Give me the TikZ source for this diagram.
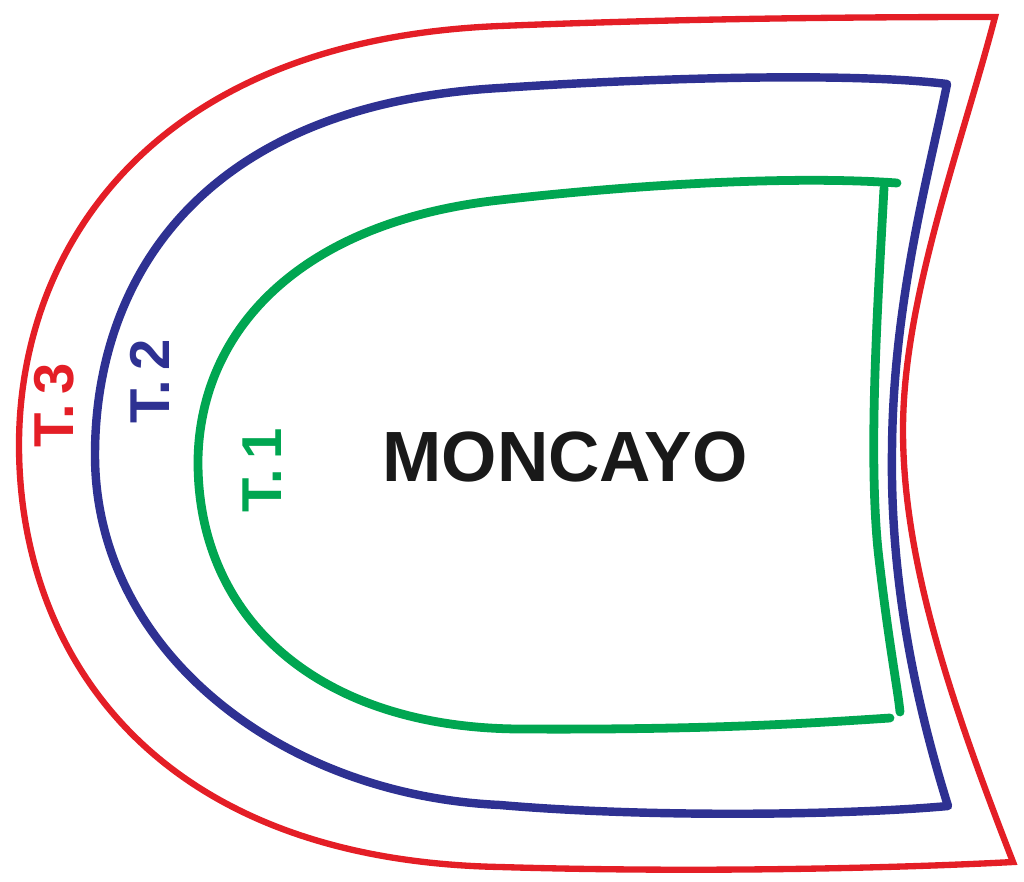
\documentclass[tikz,border=0pt]{standalone}
\usepackage{fontspec}
\setmainfont{Liberation Sans}
\usepackage{tikz}
\definecolor{rot}{HTML}{E41E26}
\definecolor{blau}{HTML}{2E3192}
\definecolor{gruen}{HTML}{00A651}
\tikzstyle{weg3} = [draw=rot, line width=3.6pt, line join=miter]
\tikzstyle{weg2} = [draw=blau, line width=4.8pt, line join=round, line cap=round]
\tikzstyle{weg1} = [draw=gruen, line width=5pt, line cap=round]
\tikzstyle{zone} = [rotate=90, inner sep=0pt, font=\fontsize{32}{32}\selectfont\bfseries]
\tikzstyle{titel} = [inner sep=0pt, font=\fontsize{40.5}{40.5}\selectfont\bfseries, text=black!90]

\begin{document}
\begin{tikzpicture}[x=0.02cm, y=-0.02cm]
	\useasboundingbox (0,0) rectangle (1024,882); % Rahmen
	% Tramo 3 (aussen)
	\draw[weg3] (995,17) .. controls (800,17) and (650,20) .. (500,26)
		.. controls (150,40) and (19,250) .. (19,445)
		.. controls (19,650) and (150,860) .. (500,867)
		.. controls (700,873) and (900,868) .. (1013,862)
		.. controls (950,700) and (903,560) .. (903,430)
		.. controls (903,300) and (960,150) .. (995,17) -- cycle;
	% Tramo 2
	\draw[weg2] (947,84) .. controls (850,72) and (650,78) .. (500,88)
		.. controls (200,105) and (95,280) .. (95,455)
		.. controls (95,650) and (280,795) .. (500,805)
		.. controls (650,818) and (850,815) .. (948,806)
		.. controls (915,700) and (890,580) .. (892,450)
		.. controls (893,300) and (930,170) .. (947,84) -- cycle;
	% Tramo 1 (innen)
	\draw[weg1] (897,183) .. controls (800,176) and (650,183) .. (500,200)
		.. controls (300,222) and (200,330) .. (198,460)
		.. controls (197,620) and (320,728) .. (520,729)
		.. controls (700,730) and (800,724) .. (890,718);
	\draw[weg1] (884,188) .. controls (878,300) and (868,450) .. (878,550)
		.. controls (888,640) and (898,690) .. (900,712); % rechte Seite
	% Beschriftung
	\node[zone, text=rot] (t3) at (54,405) {T.\,3};
	\node[zone, text=blau] (t2) at (150,381) {T.\,2};
	\node[zone, text=gruen] (t1) at (262,470) {T.\,1};
	\node[titel] (moncayo) at (565,457) {MONCAYO};
\end{tikzpicture}
\end{document}
